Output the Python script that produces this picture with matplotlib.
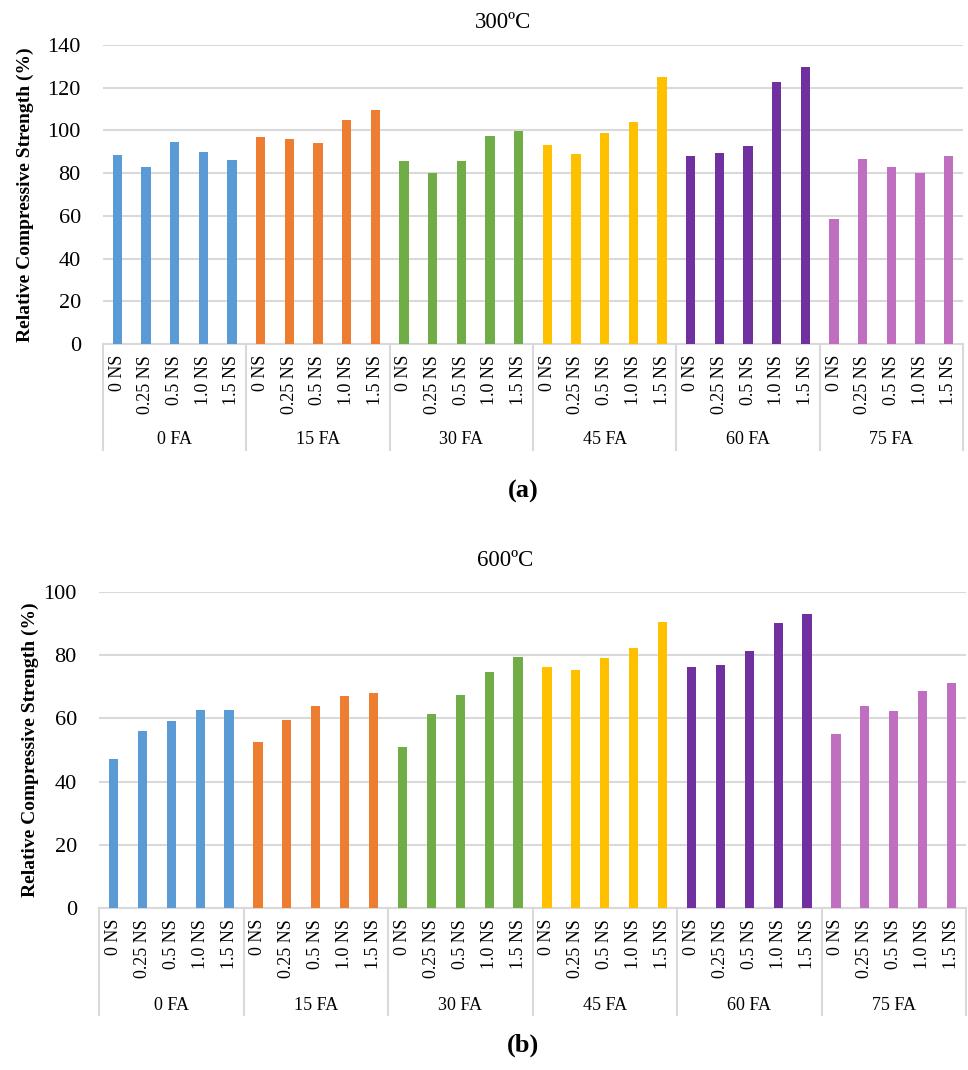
import numpy as np
import matplotlib
matplotlib.use("Agg")
import matplotlib.pyplot as plt
import matplotlib.transforms as mtransforms

plt.rcParams['font.family'] = ['Liberation Serif', 'DejaVu Serif']

# data
fa_groups = ["0 FA", "15 FA", "30 FA", "45 FA", "60 FA", "75 FA"]
ns_levels = ["0 NS", "0.25 NS", "0.5 NS", "1.0 NS", "1.5 NS"]
group_colors = ["#5B9BD5", "#ED7D31", "#70AD47", "#FFC000", "#7030A0", "#C06EC0"]

strength_300 = [
    [88.4, 82.7, 94.6, 89.9, 86.2],
    [97.0, 96.2, 94.1, 105.1, 109.4],
    [85.7, 80.1, 85.6, 97.4, 99.6],
    [93.4, 88.8, 98.7, 104.0, 125.2],
    [88.1, 89.6, 92.9, 122.6, 129.7],
    [58.4, 86.5, 82.7, 80.2, 88.1],
]
strength_600 = [
    [47.2, 56.0, 59.1, 62.6, 62.6],
    [52.6, 59.6, 63.8, 67.1, 68.0],
    [50.9, 61.5, 67.5, 74.6, 79.4],
    [76.2, 75.3, 79.2, 82.3, 90.6],
    [76.2, 76.8, 81.3, 90.1, 93.0],
    [55.2, 64.0, 62.4, 68.8, 71.3],
]

GRID = "#d9d9d9"
W, H = 968, 1070


def draw_panel(ax, values, ymax, sep_depth, label_depth, ylab_x, ytick_size):
    n = len(ns_levels)
    labels = []
    for g, vals in enumerate(values):
        x = np.arange(n) + g * n
        ax.bar(x, vals, width=0.32, color=group_colors[g], zorder=3)
        labels += ns_levels
    ax.set_xlim(-0.5, len(labels) - 0.5)
    ax.set_ylim(0, ymax)
    ax.set_yticks(np.arange(0, ymax + 1, 20))
    ax.set_xticks(np.arange(len(labels)))
    ax.set_xticklabels(labels, rotation=90, fontsize=13)
    ax.tick_params(axis='x', length=0, pad=8)
    ax.tick_params(axis='y', length=0, labelsize=ytick_size, pad=16)
    ax.grid(axis='y', color=GRID, linewidth=1.5, zorder=0)
    for s in ['top', 'right', 'left']:
        ax.spines[s].set_visible(False)
    ax.spines['bottom'].set_color(GRID)
    ax.spines['bottom'].set_linewidth(1.5)

    # group boxes below the category axis
    trans = mtransforms.blended_transform_factory(ax.transData, ax.transAxes)
    for k in range(len(fa_groups) + 1):
        xs = k * n - 0.5
        ax.plot([xs, xs], [0, sep_depth], transform=trans, color=GRID,
                linewidth=1.5, clip_on=False)
    for g, name in enumerate(fa_groups):
        ax.text(g * n + (n - 1) / 2, label_depth, name, transform=trans,
                ha='center', va='center', fontsize=13)

    ax.set_ylabel("Relative Compressive Strength (%)", fontsize=14, fontweight='bold')
    ax.yaxis.set_label_coords(ylab_x, 0.5)


fig = plt.figure(figsize=(W / 100, H / 100), dpi=100)
ax1 = fig.add_axes([103 / W, 1 - 344 / H, 860 / W, 299 / H])
ax2 = fig.add_axes([99 / W, 1 - 908 / H, 867 / W, 316 / H])

draw_panel(ax1, strength_300, 140, -0.355, -0.321, -0.08, 16)
draw_panel(ax2, strength_600, 100, -0.339, -0.31, -0.069, 16)

fig.text(503 / W, 1 - 22 / H, "300ºC", ha='center', va='center', fontsize=16.5)
fig.text(523 / W, 1 - 491 / H, "(a)", ha='center', va='center', fontsize=19, fontweight='bold')
fig.text(505 / W, 1 - 560 / H, "600ºC", ha='center', va='center', fontsize=16.5)
fig.text(523 / W, 1 - 1045 / H, "(b)", ha='center', va='center', fontsize=19, fontweight='bold')

fig.savefig("out.png", dpi=100, facecolor='white')
